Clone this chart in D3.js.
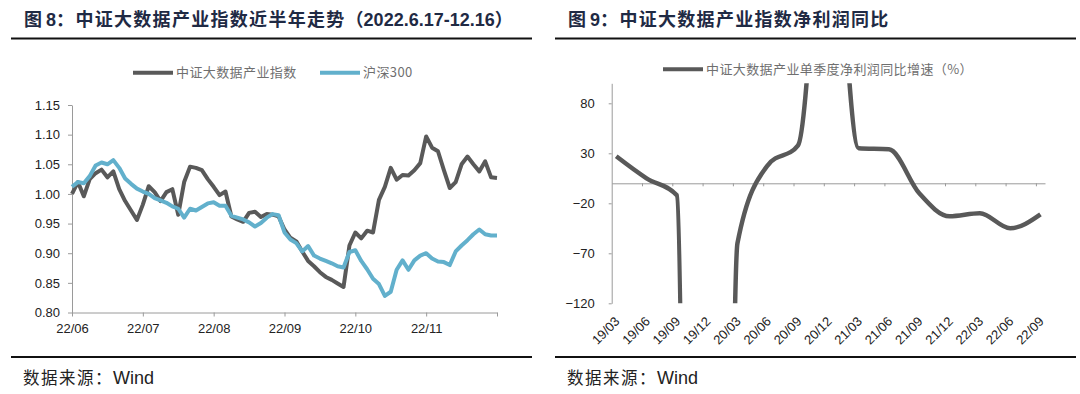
<!DOCTYPE html>
<html>
<head>
<meta charset="utf-8">
<script src="https://cdn.jsdelivr.net/npm/d3@7"></script>
<style>
  body { margin: 0; background: #fff; }
  svg { display: block; }
  .tick text { font-family: "Liberation Sans", Arial, sans-serif; fill: #222; }
  .axis path, .axis line { stroke: #9a9a9a; }
</style>
</head>
<body>
<svg id="chart" width="1080" height="394"></svg>
<script>
// ---- data ----
var monthLabels = ["22/06", "22/07", "22/08", "22/09", "22/10", "22/11"];

// 中证大数据产业指数, normalised, 2022.6.17 - 12.16
var bigData = [
  1.000, 1.020, 0.996, 1.025, 1.035, 1.041, 1.028, 1.038, 1.008, 0.988,
  0.972, 0.956, 0.982, 1.013, 1.003, 0.988, 1.003, 1.008, 0.965, 1.020,
  1.046, 1.044, 1.040, 1.025, 1.012, 0.998, 1.004, 0.962, 0.957, 0.953,
  0.968, 0.970, 0.961, 0.966, 0.965, 0.962, 0.940, 0.926, 0.920, 0.903,
  0.887, 0.878, 0.868, 0.860, 0.855, 0.849, 0.843, 0.913, 0.935, 0.925,
  0.938, 0.935, 0.990, 1.012, 1.044, 1.024, 1.032, 1.031, 1.040, 1.052,
  1.097, 1.078, 1.072, 1.040, 1.010, 1.020, 1.050, 1.063, 1.050, 1.038,
  1.055, 1.028, 1.027
];

// 沪深300, normalised
var hs300 = [
  1.012, 1.020, 1.018, 1.030, 1.048, 1.053, 1.050, 1.057, 1.044, 1.026,
  1.017, 1.009, 1.004, 1.000, 0.993, 0.989, 0.985, 0.979, 0.975, 0.960,
  0.975, 0.972, 0.978, 0.984, 0.986, 0.980, 0.980, 0.963, 0.960, 0.957,
  0.952, 0.945, 0.951, 0.960, 0.966, 0.964, 0.935, 0.923, 0.917, 0.903,
  0.912, 0.896, 0.891, 0.887, 0.883, 0.878, 0.876, 0.902, 0.905, 0.887,
  0.873, 0.857, 0.848, 0.828, 0.835, 0.872, 0.888, 0.872, 0.888, 0.896,
  0.900, 0.891, 0.886, 0.885, 0.880, 0.903, 0.913, 0.922, 0.932, 0.940,
  0.932, 0.930, 0.930
];
var leftYTicks = [0.80, 0.85, 0.90, 0.95, 1.00, 1.05, 1.10, 1.15];

var quarters = ["19/03", "19/06", "19/09", "19/12", "20/03", "20/06", "20/09", "20/12",
                "21/03", "21/06", "21/09", "21/12", "22/03", "22/06", "22/09"];
// 单季度净利润同比增速 (%), 19/12 and 20/12 are far off the scale
var profitYoY = [27, 5, -12, -3000, -60, 18, 38, 330, 35, 34, -10, -33, -30, -45, -31];
var rightYTicks = [-120, -70, -20, 30, 80];

var cjk = '"Noto Sans CJK SC", sans-serif',
    latin = '"Liberation Sans", Arial, sans-serif',
    grey = "#595959",
    blue = "#62b0cc";

var svg = d3.select("#chart");

// ---- titles, rules, footers ----
function header(x0, x1, num, text, tail) {
  var t = svg.append("text")
      .attr("x", x0 + 13).attr("y", 25.5)
      .attr("fill", "#1f2a44")
      .attr("font-weight", "bold")
      .attr("font-size", 18);
  t.append("tspan").attr("font-family", cjk).text("图 ");
  t.append("tspan").attr("font-family", latin).text(num);
  t.append("tspan").attr("font-family", cjk).attr("letter-spacing", 1.3).text("：" + text);
  if (tail) {
    t.append("tspan").attr("font-family", cjk).text("（");
    t.append("tspan").attr("font-family", latin).text(tail);
    t.append("tspan").attr("font-family", cjk).text("）");
  }
  svg.append("line")
      .attr("x1", x0).attr("x2", x1).attr("y1", 38.5).attr("y2", 38.5)
      .attr("stroke", "#111").attr("stroke-width", 2);
  svg.append("line")
      .attr("x1", x0).attr("x2", x1).attr("y1", 357).attr("y2", 357)
      .attr("stroke", "#111").attr("stroke-width", 2);
  var f = svg.append("text")
      .attr("x", x0 + 12).attr("y", 384)
      .attr("fill", "#222");
  f.append("tspan").attr("font-family", cjk).attr("font-size", 16.5)
      .attr("letter-spacing", 1.5).text("数据来源：");
  f.append("tspan").attr("font-family", latin).attr("font-size", 18).text("Wind");
}
header(11, 532, "8", "中证大数据产业指数近半年走势", "2022.6.17-12.16");
header(555, 1076, "9", "中证大数据产业指数净利润同比", null);

function legendItem(x, y, color, label) {
  svg.append("line")
      .attr("x1", x).attr("x2", x + 40).attr("y1", y).attr("y2", y)
      .attr("stroke", color).attr("stroke-width", 4);
  svg.append("text")
      .attr("x", x + 43).attr("y", y + 4.5)
      .attr("font-family", cjk).attr("font-size", 13)
      .attr("letter-spacing", 0.4)
      .attr("fill", "#6f6f6f")
      .text(label);
}

// ---- left chart ----
var x = d3.scaleLinear().domain([0, bigData.length - 1]).range([72, 497]),
    y = d3.scaleLinear().domain([0.80, 1.15]).range([312.5, 105]);

svg.append("g")
    .attr("class", "axis")
    .attr("transform", "translate(0,312.5)")
    .call(d3.axisBottom(x)
        .tickValues(d3.range(0, bigData.length, 12))
        .tickFormat(function(d, i) { return monthLabels[i] || ""; })
        .tickSize(4).tickSizeOuter(0).tickPadding(7))
    .selectAll("text").attr("font-size", 13);

svg.append("g")
    .attr("class", "axis")
    .attr("transform", "translate(72,0)")
    .call(d3.axisLeft(y)
        .tickValues(leftYTicks)
        .tickFormat(d3.format(".2f"))
        .tickSize(4).tickSizeOuter(0).tickPadding(8))
    .selectAll("text").attr("font-size", 13);

var line = d3.line()
    .x(function(d, i) { return x(i); })
    .y(function(d) { return y(d); });

svg.append("path").datum(bigData)
    .attr("d", line)
    .attr("fill", "none").attr("stroke", grey)
    .attr("stroke-width", 4).attr("stroke-linejoin", "round");
svg.append("path").datum(hs300)
    .attr("d", line)
    .attr("fill", "none").attr("stroke", blue)
    .attr("stroke-width", 4).attr("stroke-linejoin", "round");

legendItem(133, 72.7, grey, "中证大数据产业指数");
legendItem(320, 72.7, blue, "沪深300");

// ---- right chart ----
var x2 = d3.scaleLinear().domain([-0.15, quarters.length - 0.85]).range([611.7, 1045]),
    y2 = d3.scaleLinear().domain([-120, 100]).range([303.3, 83.3]);

svg.append("defs").append("clipPath")
    .attr("id", "clip2")
    .append("rect")
    .attr("x", 611.7).attr("y", 83.3)
    .attr("width", 1045 - 611.7).attr("height", 303.3 - 83.3);

svg.append("g")
    .attr("class", "axis")
    .attr("transform", "translate(0," + y2(0) + ")")
    .call(d3.axisBottom(x2)
        .tickValues(d3.range(1, quarters.length).map(function(k) { return k - 0.15; }))
        .tickFormat("")
        .tickSize(3).tickSizeOuter(0));

svg.append("g")
    .attr("class", "axis")
    .attr("transform", "translate(611.7,0)")
    .call(d3.axisLeft(y2)
        .tickValues(rightYTicks)
        .tickSize(3).tickSizeOuter(0).tickPadding(14))
    .selectAll("text").attr("font-size", 13);

svg.append("g").selectAll("text")
    .data(quarters)
    .enter().append("text")
    .attr("transform", function(d, i) { return "translate(" + (x2(i) + 1) + ",319) rotate(-45)"; })
    .attr("text-anchor", "end")
    .attr("dy", "0.35em")
    .attr("font-family", latin).attr("font-size", 13)
    .attr("fill", "#222")
    .text(function(d) { return d; });

svg.append("path").datum(profitYoY)
    .attr("clip-path", "url(#clip2)")
    .attr("d", d3.line()
        .curve(d3.curveMonotoneX)
        .x(function(d, i) { return x2(i); })
        .y(function(d) { return y2(d); }))
    .attr("fill", "none").attr("stroke", grey)
    .attr("stroke-width", 4.5).attr("stroke-linejoin", "round");

legendItem(663, 69.2, grey, "中证大数据产业单季度净利润同比增速（%）");
</script>
</body>
</html>
